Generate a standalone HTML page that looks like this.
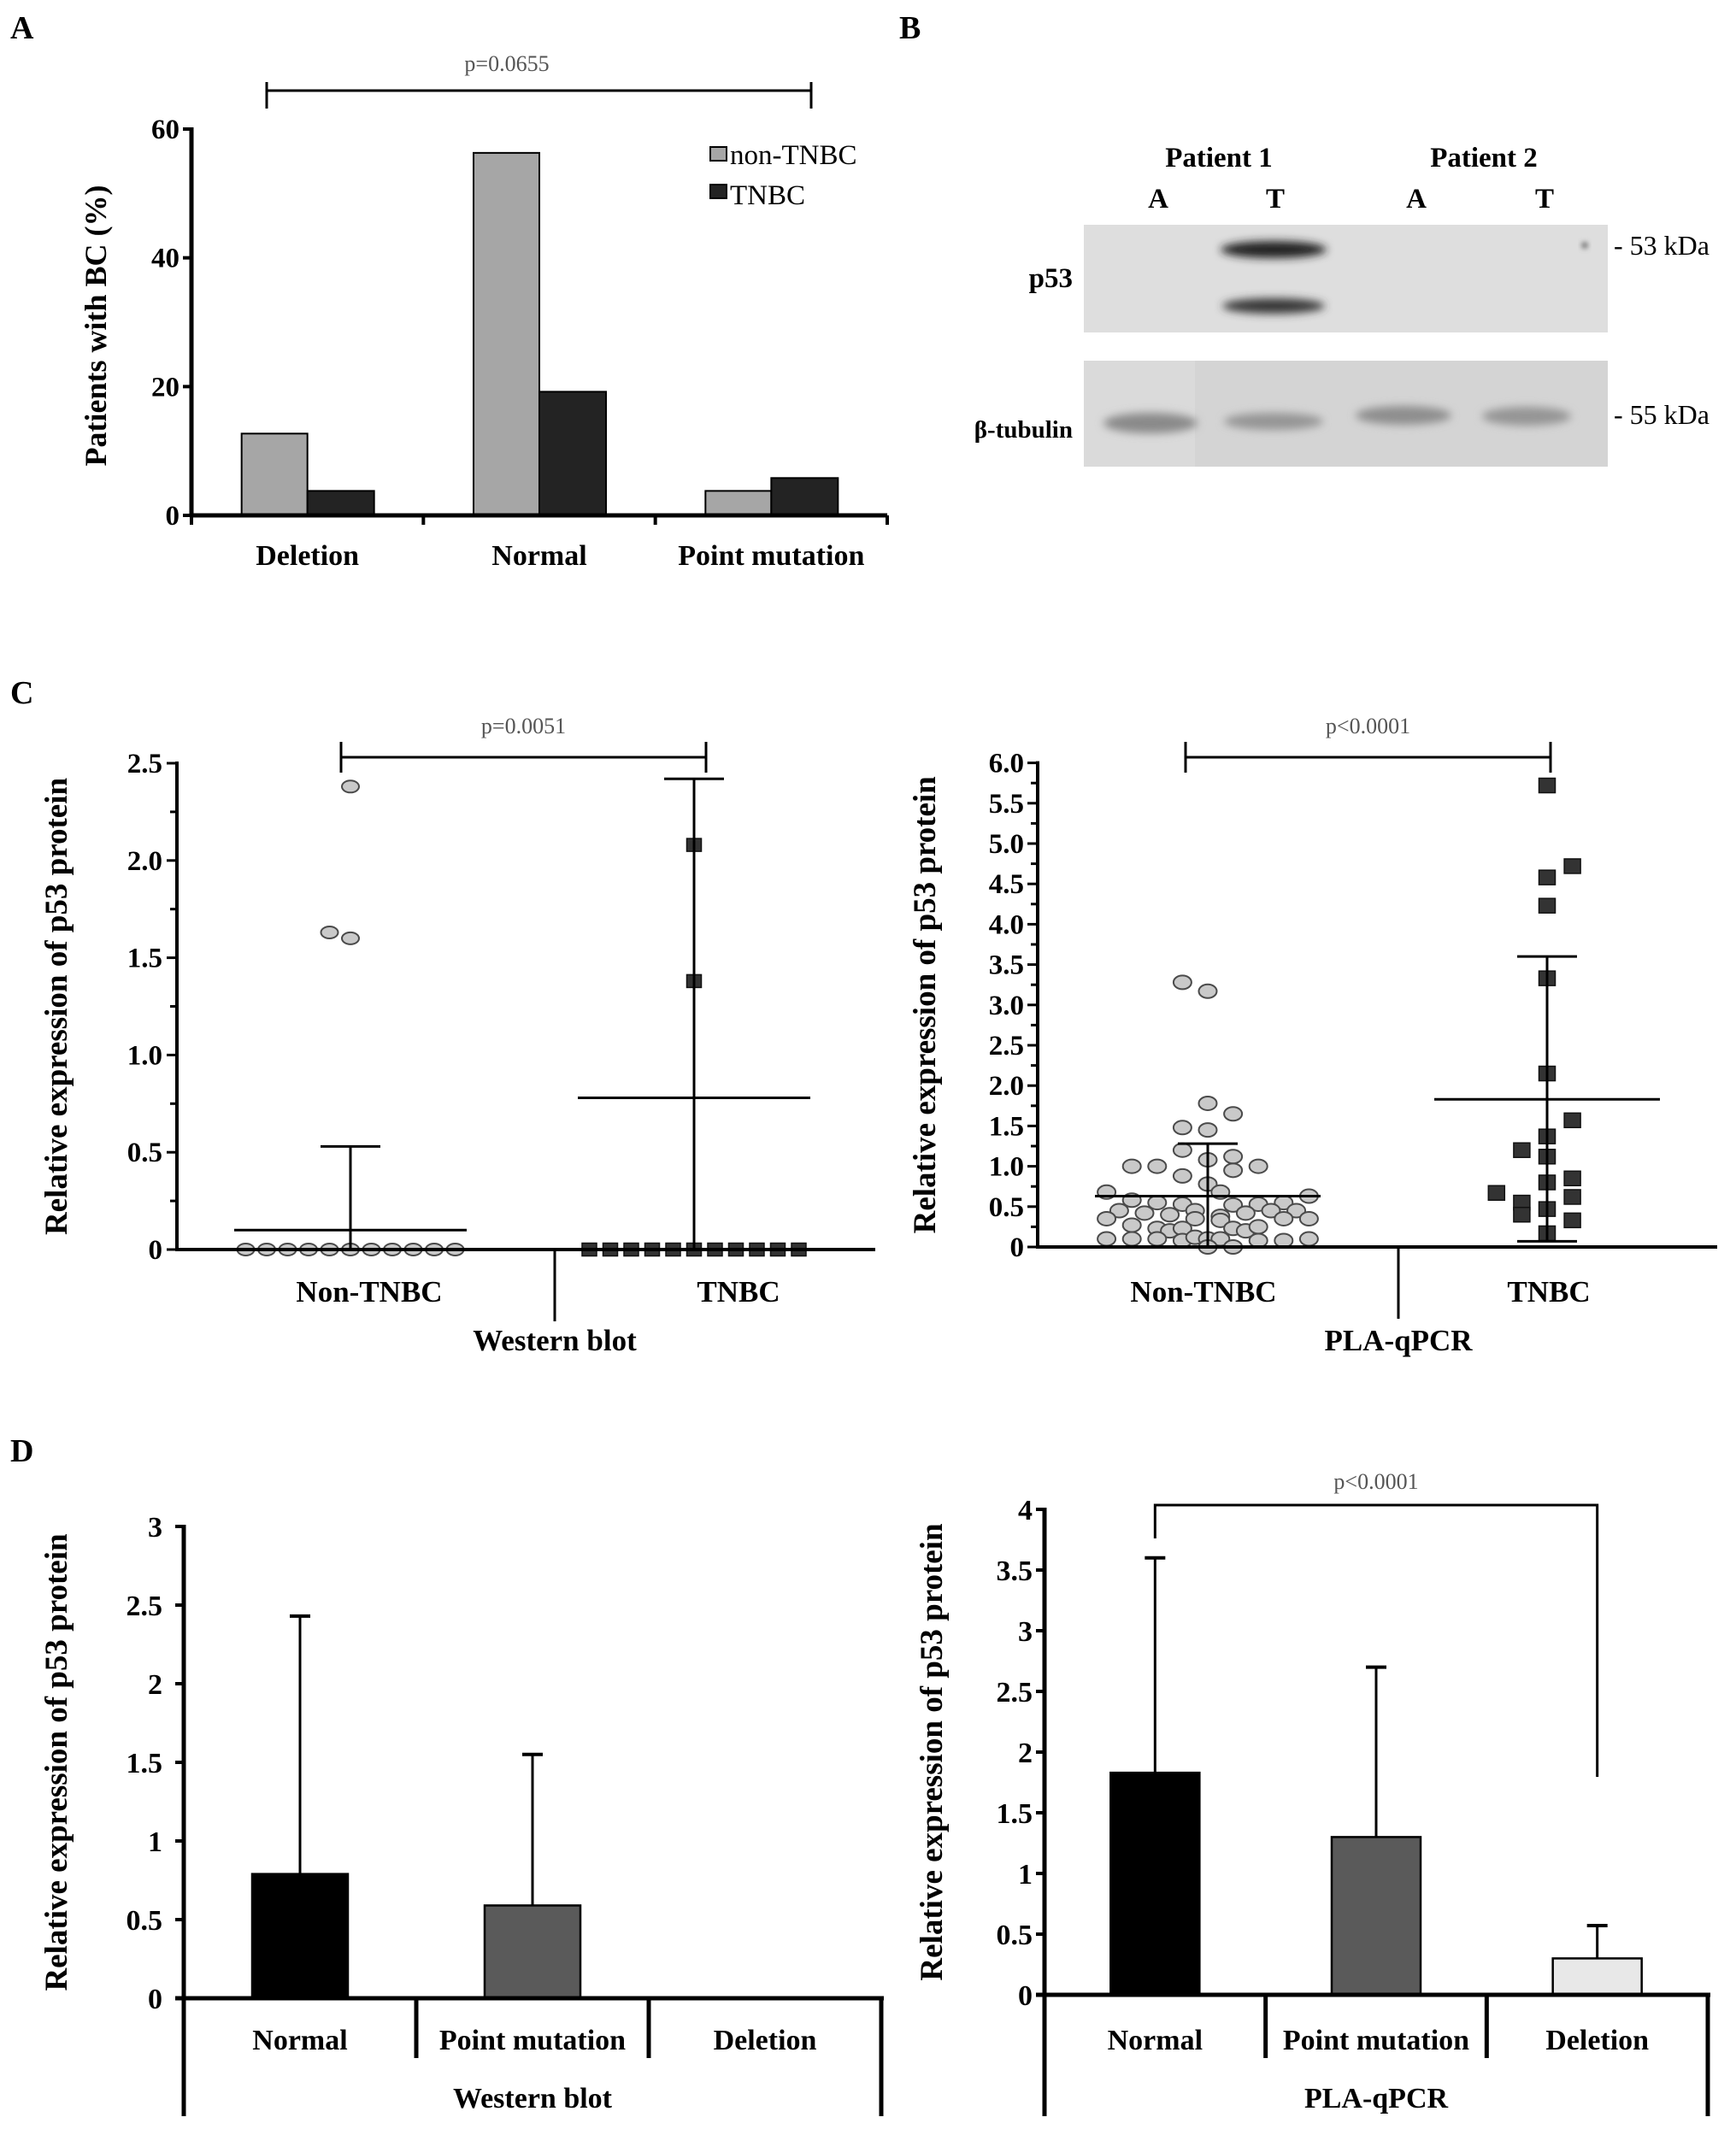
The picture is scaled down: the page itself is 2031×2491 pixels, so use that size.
<!DOCTYPE html>
<html><head><meta charset="utf-8"><style>
html,body{margin:0;padding:0;background:#fff;}
svg{display:block;}
text{font-family:"Liberation Serif",serif;}
.b{font-weight:bold;}
</style></head><body>
<svg id="fig" xmlns="http://www.w3.org/2000/svg" width="2031" height="2491" viewBox="0 0 2031 2491">
<defs>
<filter id="blur4" x="-50%" y="-100%" width="200%" height="300%"><feGaussianBlur stdDeviation="5"/></filter>
<filter id="blur2" x="-50%" y="-100%" width="200%" height="300%"><feGaussianBlur stdDeviation="3"/></filter>
</defs>
<text x="12" y="45" class="b" font-size="38">A</text>
<text x="1052" y="45" class="b" font-size="38">B</text>
<text x="12" y="823" class="b" font-size="38">C</text>
<text x="12" y="1710" class="b" font-size="38">D</text>

<g>
<text x="1426" y="195" text-anchor="middle" class="b" font-size="33">Patient 1</text>
<text x="1736" y="195" text-anchor="middle" class="b" font-size="33">Patient 2</text>
<text x="1355" y="243" text-anchor="middle" class="b" font-size="33">A</text>
<text x="1492" y="243" text-anchor="middle" class="b" font-size="33">T</text>
<text x="1657" y="243" text-anchor="middle" class="b" font-size="33">A</text>
<text x="1807" y="243" text-anchor="middle" class="b" font-size="33">T</text>
<rect x="1268" y="263" width="613" height="126" fill="#dedede"/>
<rect x="1268" y="422" width="613" height="124" fill="#d4d4d4"/>
<rect x="1268" y="422" width="130" height="124" fill="#dadada"/>
<ellipse cx="1490" cy="292" rx="62" ry="10" fill="#202020" filter="url(#blur4)"/>
<ellipse cx="1490" cy="358" rx="60" ry="9" fill="#383838" filter="url(#blur4)"/>
<ellipse cx="1346" cy="495" rx="55" ry="12" fill="#8a8a8a" filter="url(#blur4)"/>
<ellipse cx="1490" cy="493" rx="58" ry="10" fill="#959595" filter="url(#blur4)"/>
<ellipse cx="1642" cy="486" rx="56" ry="11" fill="#8e8e8e" filter="url(#blur4)"/>
<ellipse cx="1786" cy="487" rx="52" ry="11" fill="#959595" filter="url(#blur4)"/>
<circle cx="1854" cy="287" r="4" fill="#777" filter="url(#blur2)"/>
<text x="1255" y="336" text-anchor="end" class="b" font-size="33">p53</text>
<text x="1255" y="512" text-anchor="end" class="b" font-size="29">β-tubulin</text>
<text x="1888" y="298" font-size="32">- 53 kDa</text>
<text x="1888" y="496" font-size="32">- 55 kDa</text>
</g>
<g id="charts"></g>
</svg>
<script>
const aCategories = ['Deletion', 'Normal', 'Point mutation'];
const aNonTnbc = [12.7, 56.3, 3.8];
const aTnbc = [3.8, 19.2, 5.8];
const aTicks = [0, 20, 40, 60];

const cGroups = ['Non-TNBC', 'TNBC'];
const wbNonTnbcVals = [2.38, 1.63, 1.6, 0,0,0,0,0,0,0,0,0,0,0];
const wbNonTnbcJit = [0, -1, 0, -5,-4,-3,-2,-1,0,1,2,3,4,5];
const wbTnbcVals = [2.08, 1.38, 0,0,0,0,0,0,0,0,0,0,0];
const wbTnbcJit = [0, 0, -5,-4,-3,-2,-1,0,1,2,3,4,5];
const wbMean = [0.1, 0.78];
const wbSdTop = [0.53, 2.42];
const wbSdBottom = [0, 0];
const wbTicks = ['0', '0.5', '1.0', '1.5', '2.0', '2.5'];

const pqNonTnbcVals = [3.28,3.17,1.78,1.65,1.48,1.45,1.2,1.12,1.08,1.0,1.0,1.0,0.88,0.95,0.78,0.68,0.68,0.58,0.55,0.53,0.52,0.53,0.55,0.63,0.45,0.42,0.4,0.45,0.38,0.42,0.45,0.45,0.35,0.35,0.33,0.35,0.35,0.27,0.23,0.2,0.23,0.23,0.2,0.25,0.1,0.1,0.1,0.08,0.12,0.1,0.1,0.08,0.08,0.1,0.0,0.0];
const pqNonTnbcJit = [-1,0,0,1,-1,0,-1,1,0,-3,-2,2,-1,1,0,-4,0.5,-3,-2,-1,1,2,3,4,-3.5,-2.5,-1.5,-0.5,0.5,1.5,2.5,3.5,-4,-0.5,0.5,3,4,-3,-2,-1.5,-1,1,1.5,2,-4,-3,-2,-1,-0.5,0,0.5,2,3,4,0,1];
const pqTnbcVals = [5.72,4.72,4.58,4.23,3.33,2.15,1.57,1.37,1.2,1.12,0.85,0.8,0.67,0.62,0.55,0.47,0.4,0.33,0.17];
const pqTnbcJit = [0,1,0,0,0,0,1,0,-1,0,1,0,-2,1,-1,0,-1,1,0];
const pqMean = [0.63, 1.83];
const pqSdTop = [1.28, 3.6];
const pqSdBottom = [0, 0.07];
const pqTicks = ['0','0.5','1.0','1.5','2.0','2.5','3.0','3.5','4.0','4.5','5.0','5.5','6.0'];

const dCategories = ['Normal', 'Point mutation', 'Deletion'];
const dWbVals = [0.79, 0.59, 0];
const dWbErr = [2.43, 1.55, 0];
const dWbTicks = ['0','0.5','1','1.5','2','2.5','3'];
const dPqVals = [1.83, 1.3, 0.3];
const dPqErr = [3.6, 2.7, 0.57];
const dPqTicks = ['0','0.5','1','1.5','2','2.5','3','3.5','4'];

const NS = 'http://www.w3.org/2000/svg';
const root = document.getElementById('charts');
function mk(tag, attrs, parent) {
  const e = document.createElementNS(NS, tag);
  for (const k in attrs) e.setAttribute(k, attrs[k]);
  (parent || root).appendChild(e);
  return e;
}
function line(x1, y1, x2, y2, w, g, name) {
  const l = mk('line', {x1: x1, y1: y1, x2: x2, y2: y2, stroke: '#000', 'stroke-width': w}, g);
  
  
  return l;
}
function txt(x, y, s, size, bold, anchor, g, name, extra) {
  const t = mk('text', {x: x, y: y, 'font-size': size, 'text-anchor': anchor || 'middle'}, g);
  if (bold) t.setAttribute('font-weight', 'bold');
  if (extra) for (const k in extra) t.setAttribute(k, extra[k]);
  t.textContent = s;
  
  
  return t;
}
function ytitle(x, y, s, size, g, name) {
  return txt(x, y, s, size, true, 'middle', g, name, {transform: 'rotate(-90 ' + x + ' ' + y + ')'});
}
function group(name) {
  const g = mk('g', {});
  
  
  return g;
}

(function () {
  const g = group('panel-a-chart');
  const x0 = 224, x1 = 1038, y0 = 603, yTop = 151, vMax = 60;
  const y = v => y0 - v * (y0 - yTop) / vMax;
  const band = (x1 - x0) / aCategories.length;
  const cx = i => x0 + band * (i + 0.5);
  const bw = 77;
  aCategories.forEach((c, i) => {
    const r1 = mk('rect', {x: cx(i) - bw, y: y(aNonTnbc[i]), width: bw, height: y0 - y(aNonTnbc[i]), fill: '#a6a6a6', stroke: '#000', 'stroke-width': 2}, g);
    
    
    const r2 = mk('rect', {x: cx(i), y: y(aTnbc[i]), width: bw + 1, height: y0 - y(aTnbc[i]), fill: '#232323', stroke: '#000', 'stroke-width': 2}, g);
    
    
    txt(cx(i), 661, c, 34, true, 'middle', g, 'x-label-' + i);
  });
  line(x0, y0, x1, y0, 5, g, 'x-axis');
  line(x0, yTop - 2, x0, y0 + 2, 5, g, 'y-axis');
  for (let i = 0; i <= aCategories.length; i++) line(x0 + band * i, y0, x0 + band * i, 614, 4, g, 'x-tick-' + i);
  aTicks.forEach((t, i) => {
    line(x0 - 10, y(t), x0, y(t), 4, g, 'y-tick-' + i);
    txt(210, y(t) + 11, String(t), 33, true, 'end', g, 'y-tick-label-' + i);
  });
  ytitle(124, 381, 'Patients with BC (%)', 36, g, 'y-axis-title');
  line(312, 106, 949, 106, 3, g, 'significance-bracket');
  line(312, 96, 312, 127, 3, g, 'bracket-tick-left');
  line(949, 96, 949, 127, 3, g, 'bracket-tick-right');
  txt(593, 83, 'p=0.0655', 26, false, 'middle', g, 'p-value', {fill: '#555'});
  const l1 = mk('rect', {x: 831, y: 172, width: 19, height: 16, fill: '#a6a6a6', stroke: '#000', 'stroke-width': 2}, g);
  
  
  const l2 = mk('rect', {x: 831, y: 216, width: 19, height: 16, fill: '#232323', stroke: '#000', 'stroke-width': 2}, g);
  
  
  txt(854, 192, 'non-TNBC', 33, false, 'start', g, 'legend-entry-non-tnbc');
  txt(854, 239, 'TNBC', 33, false, 'start', g, 'legend-entry-tnbc');
})();

function scatter(opt) {
  const g = group(opt.name);
  const y = v => opt.y0 - v * opt.pxPer;
  const marks = [[opt.aVals, opt.aJit, 'circle'], [opt.bVals, opt.bJit, 'square']];
  marks.forEach((m, gi) => {
    m[0].forEach((v, i) => {
      const x = opt.cx[gi] + m[1][i] * opt.jit;
      let e;
      if (m[2] === 'circle') {
        e = mk('ellipse', {cx: x, cy: y(v), rx: opt.rx, ry: opt.ry, fill: '#c9c9c9', stroke: '#4a4a4a', 'stroke-width': 2}, g);
        
      } else {
        e = mk('rect', {x: x - opt.sq / 2, y: y(v) - opt.sq / 2 + 1, width: opt.sq, height: opt.sq - 2, fill: '#333', stroke: '#111', 'stroke-width': 1.5}, g);
        
      }
      
    });
  });
  opt.mean.forEach((m, i) => {
    line(opt.cx[i] - opt.meanHalf, y(m), opt.cx[i] + opt.meanHalf, y(m), 3, g, 'mean-line-' + i);
    line(opt.cx[i], y(opt.sdTop[i]), opt.cx[i], y(opt.sdBottom[i]), 3, g, 'sd-bar-' + i);
    line(opt.cx[i] - opt.capHalf, y(opt.sdTop[i]), opt.cx[i] + opt.capHalf, y(opt.sdTop[i]), 3, g, 'sd-cap-top-' + i);
    if (opt.sdBottom[i] > 0) line(opt.cx[i] - opt.capHalf, y(opt.sdBottom[i]), opt.cx[i] + opt.capHalf, y(opt.sdBottom[i]), 3, g, 'sd-cap-bottom-' + i);
    txt(opt.labelX[i], opt.labelY, cGroups[i], 35, true, 'middle', g, 'x-label-' + cGroups[i].toLowerCase());
  });
  line(opt.x0 - 2, opt.y0, opt.xEnd, opt.y0, 4, g, 'x-axis');
  const nT = opt.ticks.length - 1;
  const yTop = y(parseFloat(opt.ticks[nT]));
  line(opt.x0, yTop - 2, opt.x0, opt.y0 + 2, 4, g, 'y-axis');
  opt.ticks.forEach((t, i) => {
    const v = parseFloat(t);
    line(opt.x0 - 12, y(v), opt.x0, y(v), 3, g, 'y-tick-' + i);
    txt(opt.labelRight, y(v) + 11, t, 33, true, 'end', g, 'y-tick-label-' + i);
    if (i < nT) {
      const half = (parseFloat(opt.ticks[i + 1]) + v) / 2;
      line(opt.x0 - 8, y(half), opt.x0, y(half), 3, g, 'y-minor-tick-' + i);
    }
  });
  line(opt.divX, opt.y0, opt.divX, opt.divBottom, 3, g, 'group-divider');
  txt(opt.divX, opt.groupY, opt.group, 35, true, 'middle', g, 'method-label');
  ytitle(opt.titleX, (yTop + opt.y0) / 2, 'Relative expression of p53 protein', 37, g, 'y-axis-title');
  line(opt.br[0], opt.brY, opt.br[1], opt.brY, 3, g, 'significance-bracket');
  line(opt.br[0], opt.brY - 18, opt.br[0], opt.brY + 18, 3, g, 'bracket-tick-left');
  line(opt.br[1], opt.brY - 18, opt.br[1], opt.brY + 18, 3, g, 'bracket-tick-right');
  txt((opt.br[0] + opt.br[1]) / 2, opt.brY - 28, opt.p, 26, false, 'middle', g, 'p-value', {fill: '#555'});
}
scatter({name: 'panel-c-western-blot', x0: 207, y0: 1462, pxPer: 227.6, xEnd: 1024, cx: [410, 812], jit: 24.5,
  aVals: wbNonTnbcVals, aJit: wbNonTnbcJit, bVals: wbTnbcVals, bJit: wbTnbcJit, rx: 10, ry: 7, sq: 17,
  mean: wbMean, sdTop: wbSdTop, sdBottom: wbSdBottom, meanHalf: 136, capHalf: 35, ticks: wbTicks,
  labelRight: 190, labelX: [432, 864], labelY: 1523, divX: 649, divBottom: 1546, group: 'Western blot', groupY: 1580,
  titleX: 78, br: [399, 826], brY: 886, p: 'p=0.0051'});
scatter({name: 'panel-c-pla-qpcr', x0: 1214, y0: 1459, pxPer: 94.4, xEnd: 2009, cx: [1413, 1810], jit: 29.6,
  aVals: pqNonTnbcVals, aJit: pqNonTnbcJit, bVals: pqTnbcVals, bJit: pqTnbcJit, rx: 10.5, ry: 8, sq: 19,
  mean: pqMean, sdTop: pqSdTop, sdBottom: pqSdBottom, meanHalf: 132, capHalf: 35, ticks: pqTicks,
  labelRight: 1198, labelX: [1408, 1812], labelY: 1523, divX: 1636, divBottom: 1543, group: 'PLA-qPCR', groupY: 1580,
  titleX: 1094, br: [1387, 1814], brY: 886, p: 'p<0.0001'});

function bars(opt) {
  const g = group(opt.name);
  const y = v => opt.y0 - v * opt.pxPer;
  const band = (opt.x1 - opt.x0) / dCategories.length;
  const cx = i => opt.x0 + band * (i + 0.5);
  const fills = ['#000', '#5a5a5a', '#e8e8e8'];
  dCategories.forEach((c, i) => {
    if (opt.vals[i] > 0) {
      line(cx(i), y(opt.err[i]), cx(i), y(opt.vals[i]), 3, g, 'error-bar-' + i);
      line(cx(i) - 12, y(opt.err[i]), cx(i) + 12, y(opt.err[i]), 4, g, 'error-cap-' + i);
      const r = mk('rect', {x: cx(i) - opt.bw / 2, y: y(opt.vals[i]), width: opt.bw, height: opt.y0 - y(opt.vals[i]), fill: fills[i], stroke: '#000', 'stroke-width': 2.5}, g);
      
      
    }
    txt(cx(i), 2398, c, 34, true, 'middle', g, 'x-label-' + i);
  });
  line(opt.x0 - 10, opt.y0, opt.x1 + 3, opt.y0, 5, g, 'x-axis');
  const nT = opt.ticks.length - 1;
  const yTop = y(parseFloat(opt.ticks[nT]));
  line(opt.x0, yTop - 2, opt.x0, 2476, 5, g, 'y-axis');
  line(opt.x1, opt.y0, opt.x1, 2476, 5, g, 'right-frame-line');
  for (let i = 1; i < dCategories.length; i++) line(opt.x0 + band * i, opt.y0, opt.x0 + band * i, 2408, 5, g, 'category-divider-' + i);
  opt.ticks.forEach((t, i) => {
    const v = parseFloat(t);
    line(opt.x0 - 10, y(v), opt.x0, y(v), 4, g, 'y-tick-' + i);
    txt(opt.labelRight, y(v) + 12, t, 34, true, 'end', g, 'y-tick-label-' + i);
  });
  txt((opt.x0 + opt.x1) / 2, 2466, opt.group, 34, true, 'middle', g, 'method-label');
  ytitle(opt.titleX, (yTop + opt.y0) / 2, 'Relative expression of p53 protein', 37, g, 'y-axis-title');
  if (opt.br) {
    const b = mk('polyline', {points: cx(0) + ',1800 ' + cx(0) + ',1761 ' + cx(2) + ',1761 ' + cx(2) + ',2079', fill: 'none', stroke: '#000', 'stroke-width': 3}, g);
    
    
    txt((cx(0) + cx(2)) / 2, 1742, opt.p, 26, false, 'middle', g, 'p-value', {fill: '#555'});
  }
}
bars({name: 'panel-d-western-blot', x0: 215, x1: 1031, y0: 2338, pxPer: 184, vals: dWbVals, err: dWbErr, ticks: dWbTicks, bw: 112, labelRight: 190, group: 'Western blot', titleX: 78});
bars({name: 'panel-d-pla-qpcr', x0: 1222, x1: 1998, y0: 2334, pxPer: 142, vals: dPqVals, err: dPqErr, ticks: dPqTicks, bw: 104, labelRight: 1208, group: 'PLA-qPCR', titleX: 1102, br: true, p: 'p<0.0001'});
</script>
</body></html>
